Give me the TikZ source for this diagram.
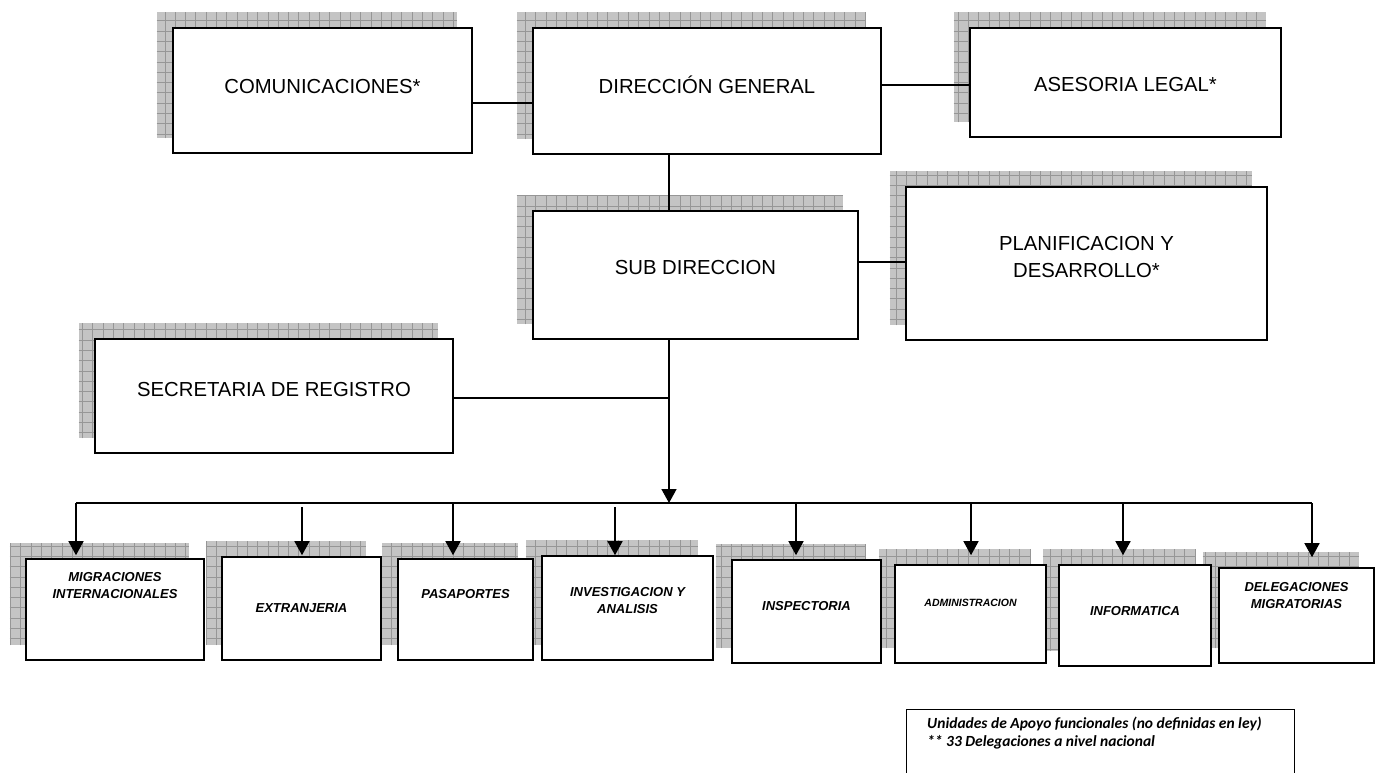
\documentclass[tikz,border=0pt]{standalone}
\usepackage{fontspec}
\setmainfont{Liberation Sans}
\newfontfamily\legfont{Carlito}
\usetikzlibrary{calc,backgrounds,arrows.meta}
\definecolor{shfill}{RGB}{196,196,196}
\definecolor{shline}{RGB}{150,150,150}
\tikzset{
  orgbox/.style={draw=black, fill=white, line width=1.6pt, inner sep=0pt},
  toptext/.style={font=\fontsize{20.3}{27}\selectfont, align=center, inner sep=0pt},
  bottext/.style={font=\fontsize{13}{17}\selectfont\bfseries\itshape, align=center, inner sep=0pt},
  smalltext/.style={font=\fontsize{10.5}{13}\selectfont\bfseries\itshape, align=center, inner sep=0pt},
  legtext/.style={font=\legfont\fontsize{15.5}{18}\selectfont\bfseries\itshape, align=left, inner sep=0pt},
  conn/.style={line width=1.5pt},
  arr/.style={line width=1.5pt, -{Triangle[width=15pt,length=14pt]}},
}
\newcommand{\obox}[8]{\node[orgbox, minimum width=#4pt, minimum height=#5pt,
  label={[#6, yshift=#8pt]center:#7}] (#1) at (#2,#3) {};}
\newcommand{\oshadow}[1]{%
  \fill[shfill] ($(#1.north west)+(-15.5,-15.5)$) rectangle ($(#1.south east)+(-15.5,-15.5)$);
  \draw[shline, line width=0.6pt, step=10.3pt] ($(#1.north west)+(-15.5,-15.5)$) grid ($(#1.south east)+(-15.5,-15.5)$);}
\begin{document}
\begin{tikzpicture}[x=1pt, y=-1pt]
\useasboundingbox (0,0) rectangle (1375,772);
\clip (0,0) rectangle (1375,772);

% top row
\obox{com}{322.5}{90.5}{299}{125}{toptext}{COMUNICACIONES*}{3.5}
\obox{dg}{707}{91}{348}{126}{toptext}{DIRECCIÓN GENERAL}{6}
\obox{ase}{1125.5}{82.5}{311}{109}{toptext}{ASESORIA LEGAL*}{-2.5}
% second row
\obox{sub}{695.5}{275}{325}{128}{toptext}{SUB DIRECCION}{7}
\obox{plan}{1086.5}{263.5}{361}{153}{toptext}{PLANIFICACION Y\\DESARROLLO*}{6}
\obox{sec}{274}{396}{358}{114}{toptext}{SECRETARIA DE REGISTRO}{6}
% bottom row
\obox{migr}{115}{609.5}{178}{101}{bottext}{MIGRACIONES\\INTERNACIONALES}{24}
\obox{extr}{301.5}{608.5}{159}{103}{bottext}{EXTRANJERIA}{0}
\obox{pas}{465.5}{609.5}{135}{101}{bottext}{PASAPORTES}{15.5}
\obox{inv}{627.5}{608}{171}{104}{bottext}{INVESTIGACION Y\\ANALISIS}{7.5}
\obox{insp}{806.5}{611.5}{149}{103}{bottext}{INSPECTORIA}{5.5}
\obox{adm}{970.5}{614}{151}{98}{smalltext}{ADMINISTRACION}{11}
\obox{inf}{1135}{615.5}{152}{101}{bottext}{INFORMATICA}{4.5}
\obox{del}{1296.5}{615.5}{155}{95}{bottext}{DELEGACIONES\\MIGRATORIAS}{19.5}

% legend
\node[draw=black, line width=1.4pt, minimum width=388pt, minimum height=90pt, anchor=north west, inner sep=0pt,
  label={[legtext, anchor=north west, xshift=21pt, yshift=-8pt]north west:Unidades de Apoyo funcionales (no definidas en ley)\\** 33 Delegaciones a nivel nacional}]
  (leg) at (906,709) {};

% shadows
\begin{scope}[on background layer]
  \fill[white] (0,0) rectangle (1375,772);
  \oshadow{com}\oshadow{dg}\oshadow{ase}
  \oshadow{sub}\oshadow{plan}\oshadow{sec}
  \oshadow{migr}\oshadow{extr}\oshadow{pas}\oshadow{inv}
  \oshadow{insp}\oshadow{adm}\oshadow{inf}\oshadow{del}
\end{scope}

% connectors
\draw[conn] ([yshift=-12.5pt]com.east) -- ([yshift=-12pt]dg.west);
\draw[conn] ([yshift=6pt]dg.east) -- ([yshift=-2.5pt]ase.west);
\draw[conn] ([xshift=-38pt]dg.south) -- ([xshift=-26.5pt]sub.north);
\draw[conn] ([yshift=13pt]sub.east) -- ([yshift=1.5pt]plan.west);

\coordinate (bushub) at (669,503);
\coordinate (join) at (669,398);
\coordinate (busL) at (76,503);
\coordinate (busR) at (1312,503);
\draw[arr] ([xshift=-26.5pt]sub.south) -- (bushub);
\draw[conn] ([yshift=-2pt]sec.east) -- (join);
\draw[conn] (busL) -- (busR);

\coordinate (a1) at (76,503);
\coordinate (a2) at (302,507);
\coordinate (a3) at (453,503);
\coordinate (a4) at (615,507);
\coordinate (a5) at (796,503);
\coordinate (a6) at (971,503);
\coordinate (a7) at (1123,503);
\coordinate (a8) at (1312,503);
\draw[arr, shorten >=3pt] (a1) -- (a1 |- migr.north);
\draw[arr, shorten >=1pt] (a2) -- (a2 |- extr.north);
\draw[arr, shorten >=3pt] (a3) -- (a3 |- pas.north);
\draw[arr] (a4) -- (a4 |- inv.north);
\draw[arr, shorten >=4pt] (a5) -- (a5 |- insp.north);
\draw[arr, shorten >=9pt] (a6) -- (a6 |- adm.north);
\draw[arr, shorten >=9pt] (a7) -- (a7 |- inf.north);
\draw[arr, shorten >=10pt] (a8) -- (a8 |- del.north);
\end{tikzpicture}
\end{document}
